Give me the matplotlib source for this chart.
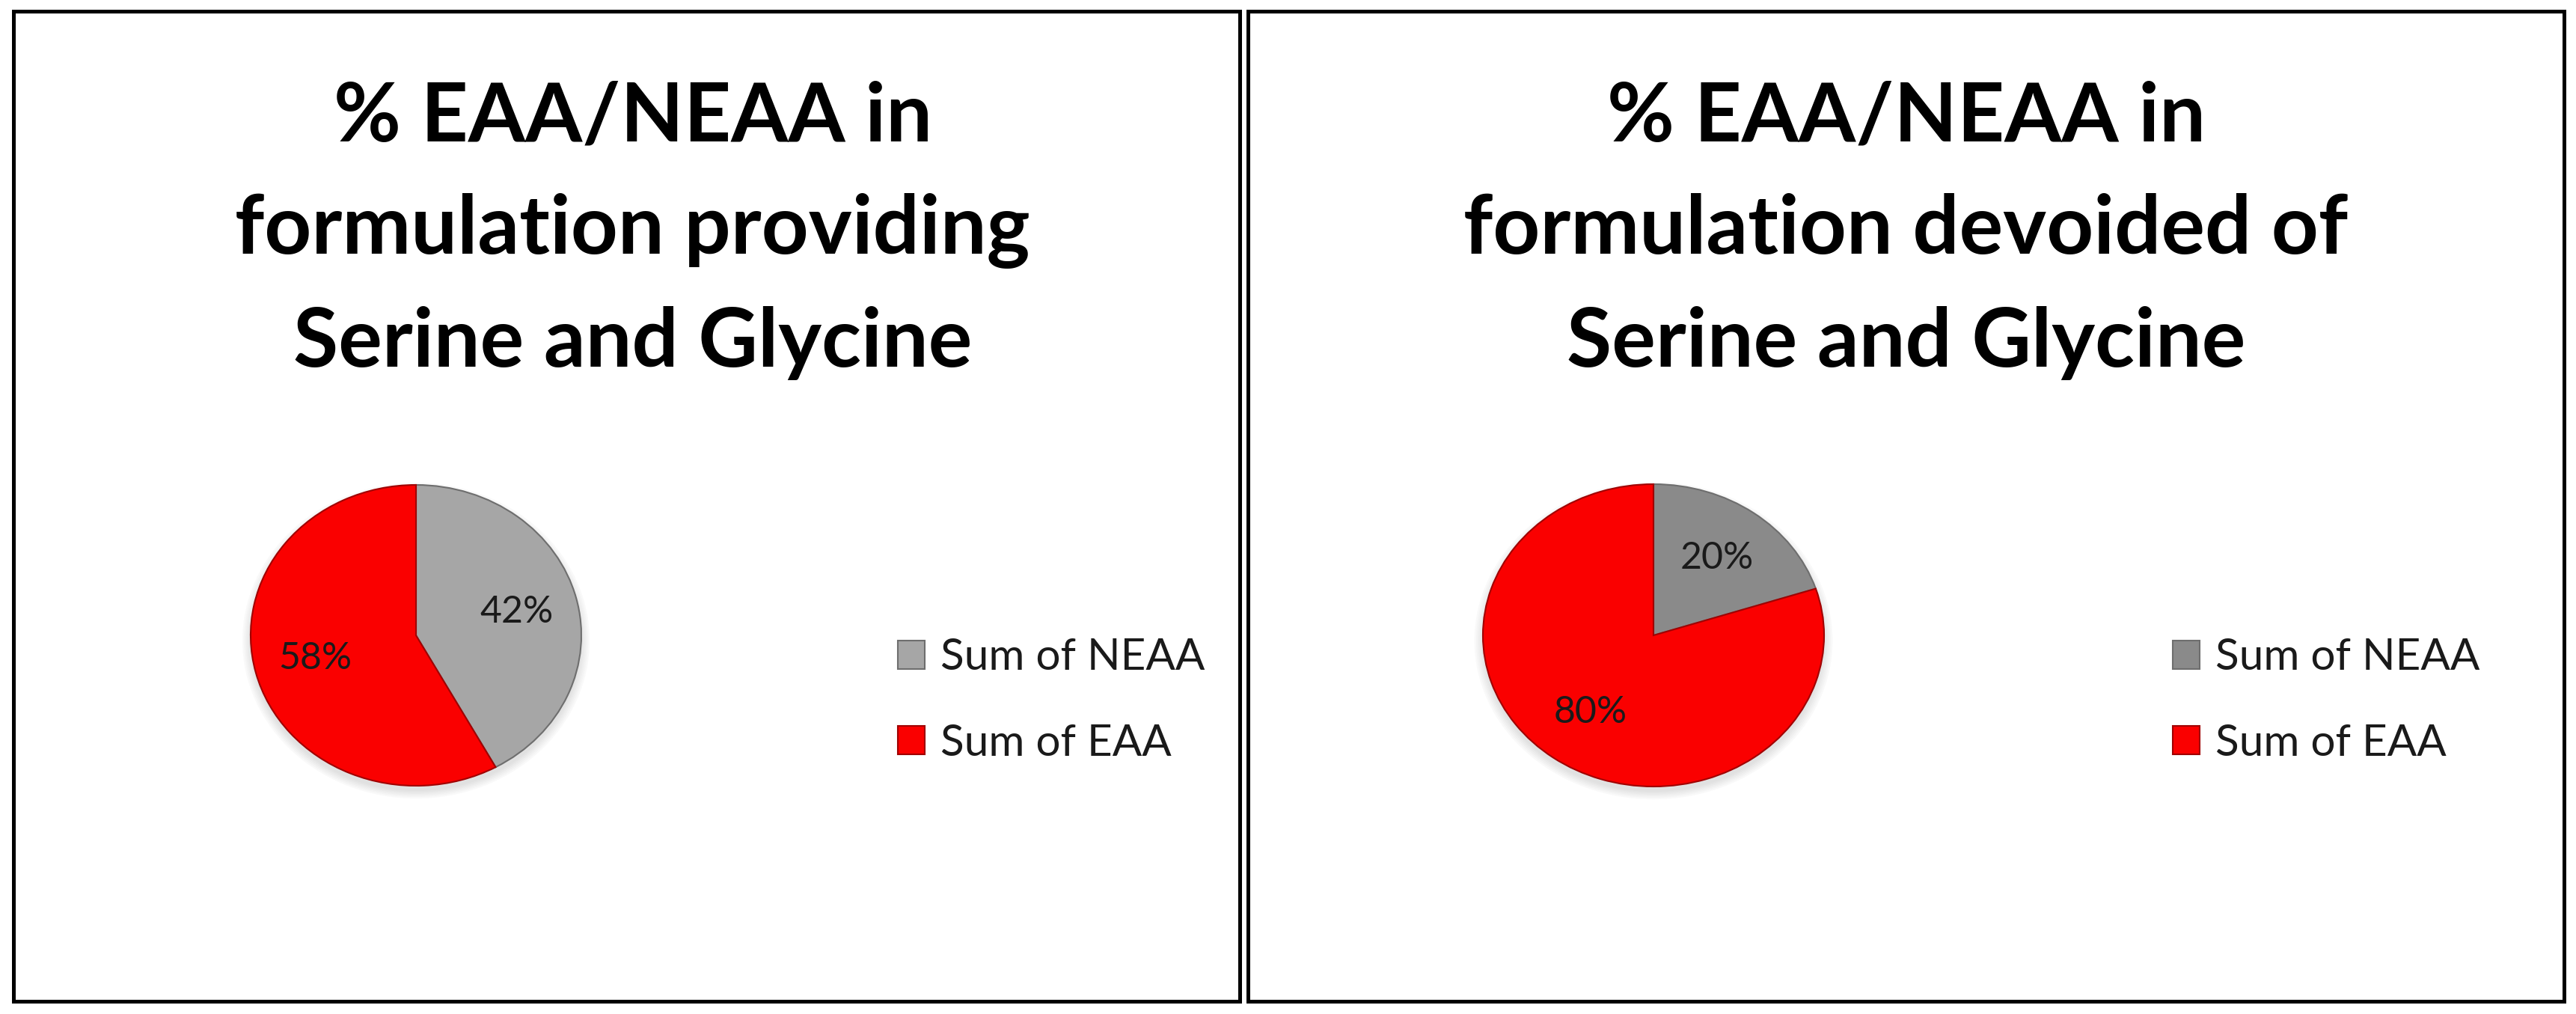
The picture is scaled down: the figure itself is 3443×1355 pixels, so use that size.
import matplotlib.pyplot as plt
from matplotlib.patches import Rectangle, Ellipse

# data
labels = ['Sum of NEAA', 'Sum of EAA']
with_ser_gly = [42, 58]
without_ser_gly = [20, 80]
titles = ['% EAA/NEAA in\nformulation providing\nSerine and Glycine',
          '% EAA/NEAA in\nformulation devoided of\nSerine and Glycine']
neaa_colors = ['#A6A6A6', '#8A8A8A']
eaa_color = '#FA0000'

W, H = 3443, 1355
fig = plt.figure(figsize=(W / 100, H / 100), dpi=100)
plt.rcParams['font.family'] = ['Lato', 'DejaVu Sans']


def box(x0, y0, x1, y1):
    # pixel box (top-left origin) -> figure fraction rect
    return [x0 / W, 1 - y1 / H, (x1 - x0) / W, (y1 - y0) / H]


panels = [(18, 15, 1657, 1338), (1668, 15, 3427, 1338)]
pie_boxes = [(556, 849, 221, 201), (2210, 849, 228, 202)]
legend_x = [1200, 2904]
series = [with_ser_gly, without_ser_gly]

for i in range(2):
    x0, y0, x1, y1 = panels[i]
    fig.patches.append(Rectangle((x0 / W, 1 - y1 / H), (x1 - x0) / W, (y1 - y0) / H,
                                 transform=fig.transFigure, fill=False,
                                 edgecolor='black', linewidth=3.6))

    # title, one line at a time
    cx = (x0 + x1) / 2 + (8 if i == 0 else 0)
    for j, line in enumerate(titles[i].split('\n')):
        fig.text(cx / W, 1 - (188 + 151 * j) / H, line, ha='center', va='baseline',
                 fontsize=79, fontweight='bold', color='black')

    # pie
    pcx, pcy, rx, ry = pie_boxes[i]
    ax = fig.add_axes(box(pcx - rx - 20, pcy - ry - 20, pcx + rx + 20, pcy + ry + 20))
    sx = (rx + 20) / rx
    sy = (ry + 20) / ry
    # soft shadow under the pie
    for k in range(6):
        ax.add_patch(Ellipse((0.0, -0.035), 2.0 + 0.02 * k, 2.0 + 0.02 * k,
                             facecolor='#7f7f7f', edgecolor='none', alpha=0.04, zorder=0))
    wedges, texts, autotexts = ax.pie(series[i], colors=[neaa_colors[i], eaa_color],
                                      startangle=90, counterclock=False,
                                      autopct='%1.0f%%', pctdistance=0.63,
                                      textprops=dict(fontsize=36, color='#1a1a1a'))
    wedges[0].set_edgecolor('#6e6e6e')
    wedges[1].set_edgecolor('#a00000')
    for w in wedges:
        w.set_linewidth(1.5)
        w.set_zorder(2)
    for t in autotexts:
        t.set_zorder(3)
    ax.set_aspect('auto')
    ax.set_xlim(-sx, sx)
    ax.set_ylim(-sy, sy)
    ax.axis('off')

    fig.legend(wedges, labels, loc='center left',
               bbox_to_anchor=(legend_x[i] / W, 1 - 936 / H),
               frameon=False, fontsize=42, labelcolor='#1a1a1a',
               handlelength=0.62, handleheight=0.62, handletextpad=0.35,
               labelspacing=1.05, borderpad=0, borderaxespad=0)

fig.savefig('out.png', dpi=100, facecolor='white')
